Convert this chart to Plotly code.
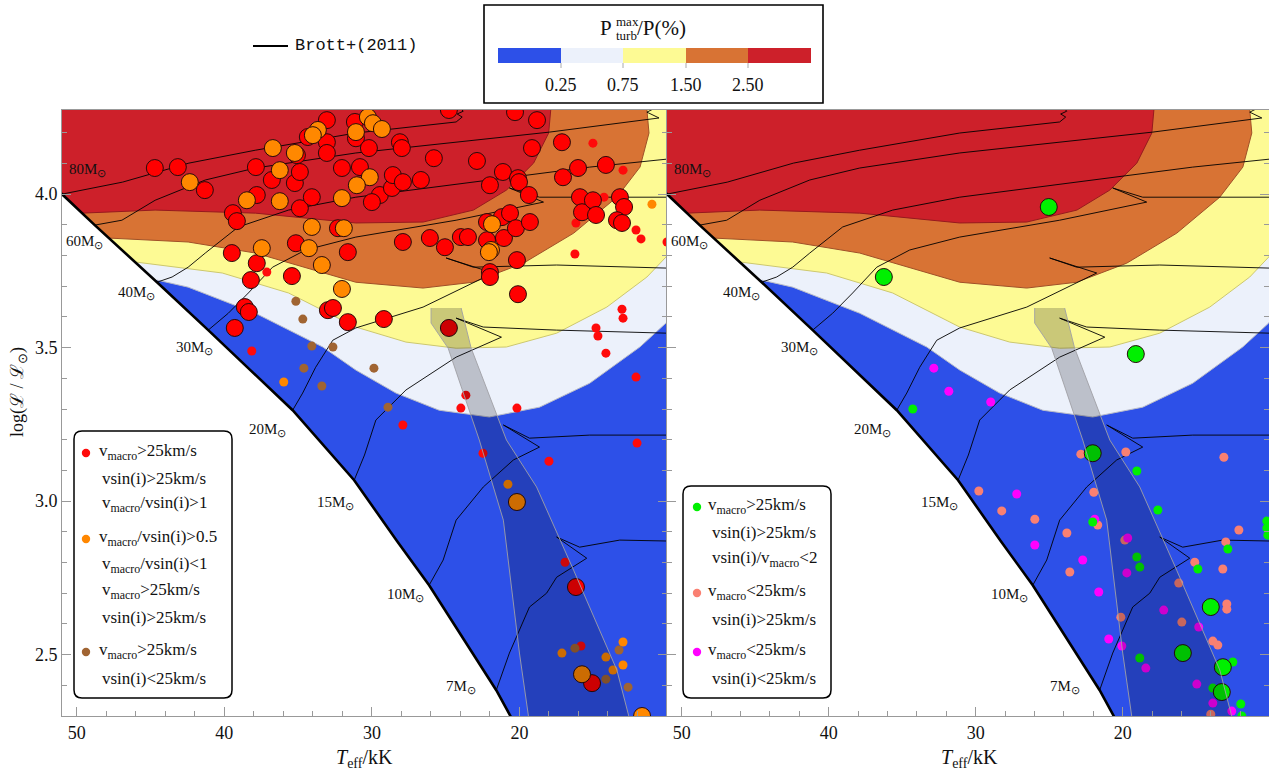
import plotly.graph_objects as go

W, H = 1269, 773
SERIF = "Liberation Serif, Times New Roman, serif"

# ---------------- data (Teff in kK, log L/Lsun) ----------------
zams_T = [53.0, 51.0, 48.78, 44.56, 41.09, 35.37, 31.2, 28.3, 26.12, 21.57, 20.6, 19.7]
zams_L = [4.091, 4.0, 3.899, 3.713, 3.557, 3.296, 3.068, 2.87, 2.726, 2.384, 2.30, 2.22]

track80_T = [51.0, 46.9, 42.4, 37.9, 31.09, 24.29, 23.88, 24.22, 23.81, 24.1]
track80_L = [4.0, 4.039, 4.101, 4.143, 4.199, 4.235, 4.251, 4.261, 4.27, 4.285]
track60_T = [48.78, 46.94, 44.69, 41.29, 37.89, 31.09, 17.96, 11.84, 10.54, 11.36, 10.82]
track60_L = [3.899, 3.915, 3.980, 4.046, 4.085, 4.134, 4.202, 4.241, 4.248, 4.267, 4.28]
track40_T = [44.56, 43.54, 42.45, 41.29, 39.05, 35.65, 31.09, 22.04, 15.24, 10.0]
track40_L = [3.713, 3.730, 3.762, 3.808, 3.893, 3.948, 3.990, 4.046, 4.088, 4.114]
track30_T = [41.09, 39.73, 38.37, 36.73, 34.49, 31.09, 24.29, 18.37, 20.68, 18.64, 10.0]
track30_L = [3.557, 3.612, 3.678, 3.762, 3.818, 3.860, 3.915, 3.974, 4.020, 3.990, 3.990]
track20_T = [35.37, 34.69, 33.81, 32.65, 31.09, 26.53, 21.77, 24.97, 23.13, 17.48, 10.0]
track20_L = [3.296, 3.352, 3.436, 3.524, 3.564, 3.632, 3.743, 3.792, 3.762, 3.769, 3.759]
track15_T = [31.2, 30.5, 29.73, 27.69, 24.29, 21.22, 24.29, 22.45, 17.48, 10.0]
track15_L = [3.068, 3.150, 3.264, 3.362, 3.469, 3.534, 3.596, 3.567, 3.557, 3.547]
track10_T = [26.12, 25.17, 24.29, 22.45, 20.41, 18.64, 21.09, 19.32, 15.24, 10.0]
track10_L = [2.726, 2.808, 2.938, 3.046, 3.134, 3.176, 3.248, 3.205, 3.215, 3.215]
track7_T = [21.57, 20.68, 19.32, 18.16, 17.48, 15.44, 17.48, 15.92, 13.20, 10.0]
track7_L = [2.384, 2.505, 2.655, 2.700, 2.752, 2.814, 2.883, 2.850, 2.873, 2.870]

# contour boundaries of Pturb_max/P
b025_T = [44.56, 42.45, 37.89, 33.33, 31.09, 28.37, 25.44, 22.04, 18.64, 15.24, 11.84, 10.07, 9.5]
b025_L = [3.720, 3.697, 3.612, 3.502, 3.427, 3.352, 3.296, 3.274, 3.306, 3.384, 3.502, 3.580, 3.62]
b075_T = [46.05, 40.14, 35.65, 31.09, 27.69, 24.29, 20.88, 17.48, 14.08, 11.36, 10.07, 9.5]
b075_L = [3.779, 3.743, 3.678, 3.567, 3.518, 3.498, 3.502, 3.547, 3.632, 3.730, 3.795, 3.83]
b150_T = [47.89, 42.45, 37.89, 31.09, 26.53, 23.13, 19.73, 16.32, 13.40, 11.83, 11.22, 11.36]
b150_L = [3.857, 3.844, 3.808, 3.713, 3.694, 3.713, 3.775, 3.873, 3.990, 4.088, 4.199, 4.274]
b250_T = [49.66, 44.69, 37.89, 31.09, 26.53, 23.12, 20.88, 19.04, 18.02, 17.88]
b250_L = [3.938, 3.948, 3.938, 3.906, 3.909, 3.948, 4.013, 4.101, 4.199, 4.274]

strip_left_T = [25.99, 25.99, 24.83, 22.72, 21.09, 20.0, 19.39, 19.2]
strip_left_L = [3.629, 3.580, 3.498, 3.199, 2.938, 2.505, 2.30, 2.24]
strip_right_T = [23.95, 23.27, 20.88, 18.84, 16.33, 13.40, 12.59, 12.3]
strip_right_L = [3.629, 3.498, 3.199, 3.046, 2.775, 2.450, 2.30, 2.24]

# left panel stars
big_red = [(44.71, 4.085), (43.15, 4.088), (41.32, 4.013), (37.86, 4.088), (36.78, 4.046),
           (37.80, 3.997), (39.42, 3.938), (39.15, 3.912), (39.49, 3.808), (37.80, 3.775),
           (38.20, 3.720), (38.61, 3.632), (38.34, 3.616), (39.29, 3.564), (35.15, 3.840),
           (35.42, 3.733), (35.22, 4.036), (34.88, 4.072), (35.08, 4.127), (34.88, 3.954),
           (34.07, 3.990), (34.34, 4.186), (33.05, 4.241), (33.05, 4.169), (33.05, 4.134),
           (32.98, 3.622), (31.15, 4.235), (31.08, 4.182), (30.20, 4.150), (28.10, 4.169),
           (27.97, 4.150), (32.03, 4.085), (30.81, 4.088), (29.46, 3.997), (30.00, 3.974),
           (28.64, 4.020), (28.58, 4.062), (27.90, 4.039), (26.68, 4.046), (25.80, 4.117),
           (22.88, 4.108), (22.00, 4.029), (21.12, 4.072), (20.10, 4.052), (20.03, 4.039),
           (19.15, 4.150), (18.81, 4.241), (20.30, 4.267), (24.78, 4.274), (17.12, 4.169),
           (16.03, 4.085), (17.05, 4.055), (14.14, 4.095), (19.36, 3.997), (15.90, 3.990),
           (15.76, 3.941), (15.02, 3.980), (14.81, 3.932), (13.19, 3.990), (12.91, 3.958),
           (13.39, 3.915), (13.05, 3.906), (32.30, 3.889), (31.63, 3.811), (32.64, 3.629),
           (31.63, 3.583), (29.19, 3.593), (27.90, 3.844), (26.07, 3.857), (25.05, 3.827),
           (23.97, 3.860), (23.49, 3.860), (22.20, 3.850), (22.20, 3.909), (21.19, 3.925),
           (20.64, 3.938), (21.05, 3.857), (20.24, 3.889), (19.29, 3.909), (22.00, 3.746),
           (22.00, 3.730), (20.17, 3.785), (20.10, 3.674), (24.78, 3.564), (16.17, 2.720),
           (15.08, 2.407)]
big_orange = [(42.34, 4.039), (38.47, 3.980), (36.71, 4.150), (36.24, 4.078), (36.24, 3.977),
              (35.22, 4.134), (33.66, 4.209), (34.00, 4.192), (34.07, 3.893), (34.27, 3.824),
              (37.46, 3.824), (33.39, 3.769), (30.27, 4.251), (29.93, 4.231), (29.32, 4.212),
              (31.08, 4.202), (30.14, 4.055), (31.02, 4.029), (32.03, 3.987), (31.90, 3.889),
              (32.03, 3.691), (21.86, 3.902), (21.93, 3.818), (22.07, 3.811), (20.17, 2.997),
              (15.76, 2.436), (11.69, 2.300)]
small_red = [(37.12, 3.746), (38.14, 3.489), (15.02, 4.166), (12.98, 4.078), (14.27, 3.990),
             (16.17, 3.906), (12.10, 3.883), (11.76, 3.854), (16.24, 3.805), (10.00, 3.844),
             (13.05, 3.625), (12.98, 3.596), (14.81, 3.564), (14.68, 3.538), (14.14, 3.482),
             (12.10, 3.404), (23.63, 3.345), (23.97, 3.303), (20.17, 3.303), (27.90, 3.248),
             (22.47, 3.156), (18.00, 3.130), (12.03, 3.189), (16.91, 2.801), (15.83, 2.528)]
small_orange = [(35.97, 3.388), (11.02, 3.967), (20.78, 3.055), (17.12, 2.505), (14.14, 2.492),
                (13.66, 2.450), (12.98, 2.541), (12.98, 2.466)]
small_brown = [(35.15, 3.651), (34.68, 3.593), (34.07, 3.505), (34.61, 3.433), (33.39, 3.375),
               (32.64, 3.502), (29.86, 3.433), (28.91, 3.306), (16.24, 2.521), (13.25, 2.515),
               (14.14, 2.420), (12.64, 2.394)]

# right panel stars
big_green = [(36.25, 3.730), (25.03, 3.958), (19.11, 3.479), (22.04, 3.156), (14.01, 2.655),
             (15.91, 2.505), (13.19, 2.459), (13.26, 2.378)]
small_green = [(34.28, 3.300), (19.04, 3.098), (17.61, 2.971), (22.04, 2.932), (19.04, 2.818),
               (18.84, 2.785), (14.89, 2.779), (12.85, 2.844), (18.84, 2.489), (13.87, 2.391),
               (12.51, 2.476), (11.97, 2.339), (11.90, 2.300), (10.20, 2.935), (10.20, 2.912),
               (10.13, 2.889)]
small_salmon = [(22.85, 3.153), (19.79, 3.160), (13.12, 3.143), (29.79, 3.033), (28.23, 2.968),
                (25.98, 2.941), (23.80, 2.896), (23.60, 2.769), (21.97, 3.029), (21.70, 2.922),
                (19.86, 2.873), (15.10, 2.801), (13.19, 2.779), (12.10, 2.906), (12.99, 2.867),
                (16.19, 2.733), (15.98, 2.606), (12.92, 2.665), (12.92, 2.648), (13.87, 2.544),
                (13.53, 2.531), (20.13, 2.622), (14.01, 2.306)]
small_magenta = [(32.85, 3.433), (31.83, 3.358), (28.98, 3.323), (27.21, 3.023), (25.98, 2.857),
                 (22.72, 2.808), (21.90, 2.941), (21.63, 2.704), (20.95, 2.551), (20.06, 2.528),
                 (19.66, 2.880), (19.72, 2.766), (17.21, 2.645), (14.83, 2.590), (18.43, 2.456),
                 (14.96, 2.404), (13.87, 2.342), (12.58, 2.316)]

mass_labels = ["80", "60", "40", "30", "20", "15", "10", "7"]
cbar_ticks = ["0.25", "0.75", "1.50", "2.50"]

# ---------------- styles ----------------
C_BLUE = "rgb(45,80,232)"
C_LIGHT = "rgb(236,241,251)"
C_YEL = "rgb(253,250,148)"
C_ORA = "rgb(216,115,52)"
C_RED = "rgb(205,32,42)"

fig = go.Figure()

tracks = [(track80_T, track80_L), (track60_T, track60_L), (track40_T, track40_L),
          (track30_T, track30_L), (track20_T, track20_L), (track15_T, track15_L),
          (track10_T, track10_L), (track7_T, track7_L)]


def region(T, L, fill, edge, xa, ya):
    # close the polygon above the boundary, outside the plotted range
    xs = list(T) + [T[-1], 9.0, 53.0, 53.0]
    ys = list(L) + [4.5, 4.5, 4.5, L[0]]
    fig.add_trace(go.Scatter(x=xs, y=ys, mode="lines", fill="toself", fillcolor=fill,
                             line=dict(color=edge, width=1), xaxis=xa, yaxis=ya,
                             hoverinfo="skip", showlegend=False))


def scatter(pts, size, color, xa, ya, outline=False):
    T = [p[0] for p in pts]
    L = [p[1] for p in pts]
    mk = dict(size=size, color=color)
    if outline:
        mk["line"] = dict(color="rgb(40,10,10)", width=1)
    else:
        mk["line"] = dict(width=0)
    fig.add_trace(go.Scatter(x=T, y=L, mode="markers", marker=mk, xaxis=xa, yaxis=ya,
                             hoverinfo="skip", showlegend=False))


for xa, ya in [("x", "y"), ("x2", "y2")]:
    region(b025_T, b025_L, C_LIGHT, "rgb(185,188,200)", xa, ya)
    region(b075_T, b075_L, C_YEL, "rgb(205,200,110)", xa, ya)
    region(b150_T, b150_L, C_ORA, "rgb(160,80,40)", xa, ya)
    region(b250_T, b250_L, C_RED, "rgb(150,25,30)", xa, ya)
    # white area left of the ZAMS
    fig.add_trace(go.Scatter(x=zams_T + [53.0], y=zams_L + [2.22], mode="lines", fill="toself",
                             fillcolor="white", line=dict(width=0), xaxis=xa, yaxis=ya,
                             hoverinfo="skip", showlegend=False))
    for tT, tL in tracks:
        fig.add_trace(go.Scatter(x=tT, y=tL, mode="lines", line=dict(color="black", width=0.9),
                                 xaxis=xa, yaxis=ya, hoverinfo="skip", showlegend=False))
    fig.add_trace(go.Scatter(x=zams_T, y=zams_L, mode="lines", line=dict(color="black", width=2.6),
                             xaxis=xa, yaxis=ya, hoverinfo="skip", showlegend=False))

# left panel stars
scatter(small_red, 9, "rgb(255,10,10)", "x", "y")
scatter(small_orange, 9, "rgb(255,135,0)", "x", "y")
scatter(small_brown, 9, "rgb(160,100,50)", "x", "y")
scatter(big_red, 17, "rgb(255,0,0)", "x", "y", outline=True)
scatter(big_orange, 17, "rgb(255,136,0)", "x", "y", outline=True)
# right panel stars
scatter(small_salmon, 9, "rgb(250,128,114)", "x2", "y2")
scatter(small_magenta, 9, "rgb(255,0,255)", "x2", "y2")
scatter(small_green, 9, "rgb(0,240,0)", "x2", "y2")
scatter(big_green, 17, "rgb(0,240,0)", "x2", "y2", outline=True)

# gray strip (drawn on top of the stars)
for xa, ya in [("x", "y"), ("x2", "y2")]:
    fig.add_trace(go.Scatter(x=strip_left_T + strip_right_T[::-1], y=strip_left_L + strip_right_L[::-1],
                             mode="lines", fill="toself", fillcolor="rgba(0,0,10,0.2)",
                             line=dict(color="rgba(160,160,165,0.9)", width=1), xaxis=xa, yaxis=ya,
                             hoverinfo="skip", showlegend=False))


# ---------------- layout helpers (pixel -> paper) ----------------
def X(p):
    return p / W


def Y(p):
    return 1 - p / H


ann = []
shapes = []


def note(x, y, s, size, xref="paper", yref="paper", xanchor="center", family=SERIF, angle=0):
    ann.append(dict(x=x, y=y, xref=xref, yref=yref, text=s, showarrow=False, textangle=angle,
                    xanchor=xanchor, yanchor="middle", font=dict(family=family, size=size, color="#111")))


# mass labels near the ZAMS start of each track
label_pos = [(49.25, 4.078), (49.46, 3.844), (45.93, 3.678), (42.0, 3.498),
             (37.05, 3.231), (32.45, 2.993), (27.69, 2.694), (23.95, 2.394)]
for xa, ya in [("x", "y"), ("x2", "y2")]:
    for m, (t, l) in zip(mass_labels, label_pos):
        note(t, l, f"{m}M<sub>⊙</sub>", 15, xref=xa, yref=ya)

# axis titles
for cx in (364, 969):
    note(X(cx), Y(758), "<i>T</i><sub>eff</sub>/kK", 20)
note(X(18), Y(392), "log(ℒ / ℒ<sub>⊙</sub>)", 18, angle=-90)


def rrect(x0, y0, x1, y1, r):
    return (f"M {X(x0 + r)},{Y(y0)} L {X(x1 - r)},{Y(y0)} Q {X(x1)},{Y(y0)} {X(x1)},{Y(y0 + r)} "
            f"L {X(x1)},{Y(y1 - r)} Q {X(x1)},{Y(y1)} {X(x1 - r)},{Y(y1)} "
            f"L {X(x0 + r)},{Y(y1)} Q {X(x0)},{Y(y1)} {X(x0)},{Y(y1 - r)} "
            f"L {X(x0)},{Y(y0 + r)} Q {X(x0)},{Y(y0)} {X(x0 + r)},{Y(y0)} Z")


# legend boxes
shapes.append(dict(type="path", xref="paper", yref="paper", path=rrect(74, 431, 232, 698, 8),
                   line=dict(color="black", width=1.5), fillcolor="white"))
shapes.append(dict(type="path", xref="paper", yref="paper", path=rrect(683, 486, 831, 698, 8),
                   line=dict(color="black", width=1.5), fillcolor="white"))


def dot(cx, cy, color, r=4.2):
    shapes.append(dict(type="circle", xref="paper", yref="paper", x0=X(cx - r), x1=X(cx + r),
                       y0=Y(cy + r), y1=Y(cy - r), fillcolor=color, line=dict(width=0)))


left_legend = [
    (452, True, "rgb(255,10,10)", "v<sub>macro</sub>&gt;25km/s"),
    (478, False, None, "vsin(i)&gt;25km/s"),
    (504, False, None, "v<sub>macro</sub>/vsin(i)&gt;1"),
    (538, True, "rgb(255,135,0)", "v<sub>macro</sub>/vsin(i)&gt;0.5"),
    (565, False, None, "v<sub>macro</sub>/vsin(i)&lt;1"),
    (591, False, None, "v<sub>macro</sub>&gt;25km/s"),
    (617, False, None, "vsin(i)&gt;25km/s"),
    (651, True, "rgb(160,100,50)", "v<sub>macro</sub>&gt;25km/s"),
    (678, False, None, "vsin(i)&lt;25km/s"),
]
for y, has_dot, col, s in left_legend:
    if has_dot:
        dot(86, y + 1, col)
        note(X(97), Y(y), s, 17, xanchor="left")
    else:
        note(X(100), Y(y), s, 17, xanchor="left")

right_legend = [
    (506, True, "rgb(0,240,0)", "v<sub>macro</sub>&gt;25km/s"),
    (532, False, None, "vsin(i)&gt;25km/s"),
    (559, False, None, "vsin(i)/v<sub>macro</sub>&lt;2"),
    (592, True, "rgb(250,128,114)", "v<sub>macro</sub>&lt;25km/s"),
    (619, False, None, "vsin(i)&gt;25km/s"),
    (651, True, "rgb(255,0,255)", "v<sub>macro</sub>&lt;25km/s"),
    (678, False, None, "vsin(i)&lt;25km/s"),
]
for y, has_dot, col, s in right_legend:
    if has_dot:
        dot(697, y + 1, col)
        note(X(706), Y(y), s, 17, xanchor="left")
    else:
        note(X(710), Y(y), s, 17, xanchor="left")

# Brott+(2011) key
shapes.append(dict(type="line", xref="paper", yref="paper", x0=X(253), x1=X(288), y0=Y(46), y1=Y(46),
                   line=dict(color="black", width=2)))
note(X(293), Y(45), "Brott+(2011)", 17, xanchor="left", family="Courier New, Liberation Mono, monospace")

# colour key box
shapes.append(dict(type="rect", xref="paper", yref="paper", x0=X(484), x1=X(823), y0=Y(103), y1=Y(5),
                   line=dict(color="black", width=1.6), fillcolor="white"))
seg_cols = [C_BLUE, C_LIGHT, C_YEL, C_ORA, C_RED]
edges = [498, 561, 623, 686, 748, 811]
for i, c in enumerate(seg_cols):
    shapes.append(dict(type="rect", xref="paper", yref="paper", x0=X(edges[i]), x1=X(edges[i + 1]),
                       y0=Y(63), y1=Y(48), fillcolor=c, line=dict(width=0)))
for i, lab in enumerate(cbar_ticks):
    ex = edges[i + 1]
    shapes.append(dict(type="line", xref="paper", yref="paper", x0=X(ex), x1=X(ex), y0=Y(63), y1=Y(68),
                       line=dict(color="#aaa", width=1)))
    note(X(ex), Y(85), lab, 18)
note(X(614), Y(28), "P", 21, xanchor="right")
note(X(614), Y(21), "max", 13, xanchor="left")
note(X(614), Y(35), "turb", 13, xanchor="left")
note(X(635), Y(28), "/P(%)", 21, xanchor="left")

AX = "#999"
xcommon = dict(showline=True, linecolor=AX, linewidth=1, mirror=True, ticks="inside", ticklen=9,
               tickcolor=AX, tickvals=[50, 40, 30, 20], ticktext=["50", "40", "30", "20"],
               tickfont=dict(family=SERIF, size=18, color="#111"), automargin=False,
               minor=dict(ticks="inside", ticklen=5, tickcolor=AX, dtick=2, tick0=0),
               showgrid=False, zeroline=False, fixedrange=True)
ycommon = dict(showline=True, linecolor=AX, linewidth=1, mirror="ticks", ticks="inside", ticklen=9,
               tickcolor=AX, tickvals=[2.5, 3.0, 3.5, 4.0], ticktext=["2.5", "3.0", "3.5", "4.0"],
               tickfont=dict(family=SERIF, size=18, color="#111"), automargin=False,
               minor=dict(ticks="inside", ticklen=5, tickcolor=AX, dtick=0.1, tick0=0),
               showgrid=False, zeroline=False, fixedrange=True, range=[2.30, 4.274])

fig.update_layout(
    width=W, height=H, margin=dict(l=0, r=0, t=0, b=0, pad=0, autoexpand=False),
    paper_bgcolor="white", plot_bgcolor=C_BLUE, showlegend=False,
    xaxis=dict(domain=[X(62), X(667)], range=[51.0, 10.0], anchor="y", **xcommon),
    xaxis2=dict(domain=[X(667), 1.0], range=[51.0, 10.05], anchor="y2", **xcommon),
    yaxis=dict(domain=[Y(716), Y(110)], anchor="x", **ycommon),
    yaxis2=dict(domain=[Y(716), Y(110)], anchor="x2", showticklabels=False, **ycommon),
    annotations=ann, shapes=shapes,
)

fig.write_html("out.html", config={"displayModeBar": False},
               post_script="document.body.style.margin='0';document.body.style.overflow='hidden';")
